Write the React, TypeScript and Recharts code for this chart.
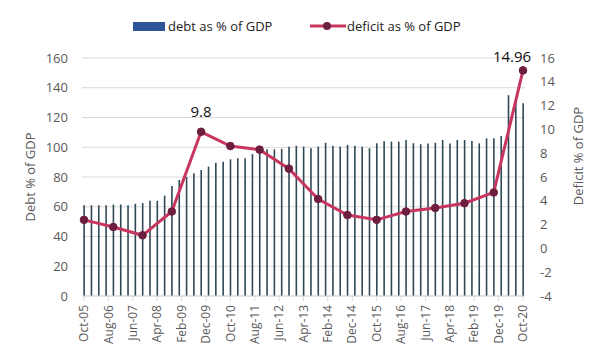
import React from 'react';
import { ComposedChart, Bar, Line, XAxis, YAxis, CartesianGrid, LabelList } from 'recharts';

// debt is quarterly (Oct-05 .. Oct-20), deficit is one reading per year (each October)
const MONTHS = ['Jan', 'Feb', 'Mar', 'Apr', 'May', 'Jun', 'Jul', 'Aug', 'Sep', 'Oct', 'Nov', 'Dec'];
const START_YEAR = 2005;
const START_MONTH = 9; // October

const debtPct = [
  61, 61, 61, 61, 61.5, 61.5, 61, 62, 62.5, 64, 64, 67.5, 74, 78, 80, 82.5, 84.7, 87, 89.6, 90.3,
  91.9, 92.6, 92.6, 95.4, 97, 98.6, 98.6, 99, 100.4, 101, 100.4, 99.3, 100.4, 103, 101, 100.4, 101.5, 101, 100.4, 99.3,
  102.7, 104, 103.8, 103.8, 104.8, 102.7, 102, 102.6, 103, 104.9, 102.6, 104.9, 104.9, 104.2, 102.6, 106, 106, 107.6, 135, 130,
  129.5,
];
const deficitPct = [2.4, 1.8, 1.1, 3.1, 9.8, 8.6, 8.3, 6.7, 4.15, 2.8, 2.4, 3.1, 3.4, 3.8, 4.7, 14.96];
const labelledDeficits = [9.8, 14.96];

const xTicks = Array.from({ length: 19 }, (_, i) => i * 10);
const debtTicks = [0, 20, 40, 60, 80, 100, 120, 140, 160];
const deficitTicks = [-4, -2, 0, 2, 4, 6, 8, 10, 12, 14, 16];

const rows = debtPct.map((debt, i) => ({
  m: i * 3,
  debt,
  deficit: i % 4 === 0 ? deficitPct[i / 4] : null,
}));

const monthLabel = (m: number) => {
  const total = START_MONTH + m;
  const yr = START_YEAR + Math.floor(total / 12);
  return `${MONTHS[total % 12]}-${String(yr % 100).padStart(2, '0')}`;
};

const INK = '#595959';
const FONT = "'Open Sans', sans-serif";
const LINE = '#C8365F';
const DOT = '#6E1E3F';

const XTick = ({ x, y, payload }: any) => (
  <text
    x={x}
    y={y + 2}
    transform={`rotate(-90 ${x} ${y + 2})`}
    textAnchor="end"
    dy="0.35em"
    fontSize={12}
    fill={INK}
    fontFamily={FONT}
  >
    {monthLabel(payload.value)}
  </text>
);

const PeakLabel = (props: any) => {
  const { x, y, value, index } = props;
  if (value == null || !labelledDeficits.includes(value)) return null;
  const last = index === rows.length - 1;
  return (
    <text
      x={last ? x - 11 : x}
      y={last ? y - 12 : y - 19}
      textAnchor="middle"
      dominantBaseline="middle"
      fontSize={15}
      fill="#111"
      fontFamily={FONT}
    >
      {value}
    </text>
  );
};

function LegendRow() {
  const txt: React.CSSProperties = { position: 'absolute', top: 17, fontSize: 13, color: '#222', fontFamily: FONT, whiteSpace: 'nowrap' };
  return (
    <>
      <div style={{ position: 'absolute', left: 133, top: 22, width: 32, height: 9, background: '#2E5597' }} />
      <div style={{ ...txt, left: 168 }}>debt as % of GDP</div>
      <svg style={{ position: 'absolute', left: 308, top: 20 }} width={40} height={12}>
        <line x1={2} y1={6} x2={38} y2={6} stroke={LINE} strokeWidth={3} />
        <circle cx={19} cy={6} r={4} fill={DOT} />
      </svg>
      <div style={{ ...txt, left: 347 }}>deficit as % of GDP</div>
    </>
  );
}

export default function App() {
  return (
    <div style={{ position: 'absolute', left: 0, top: 0, width: 601, height: 360, background: '#fff' }}>
      <LegendRow />
      <ComposedChart
        width={601}
        height={360}
        data={rows}
        margin={{ top: 58, right: 16, bottom: 0, left: 22 }}
        style={{ fontFamily: FONT }}
      >
        <CartesianGrid yAxisId="left" vertical={false} stroke="#D9D9D9" />
        <XAxis
          dataKey="m"
          type="number"
          domain={[0, 180]}
          ticks={xTicks}
          interval={0}
          padding={{ left: 2, right: 2 }}
          height={64}
          stroke="#D9D9D9"
          tickSize={5}
          tick={<XTick />}
        />
        <YAxis
          yAxisId="left"
          domain={[0, 160]}
          ticks={debtTicks}
          width={60}
          axisLine={false}
          tickLine={false}
          tickMargin={8}
          tick={{ fontSize: 13, fill: INK }}
          label={{
            content: () => (
              <text x={32} y={177} transform="rotate(-90 32 177)" textAnchor="middle" dominantBaseline="middle" fontSize={13} fill={INK} fontFamily={FONT}>
                Debt % of GDP
              </text>
            ),
          }}
        />
        <YAxis
          yAxisId="right"
          orientation="right"
          domain={[-4, 16]}
          ticks={deficitTicks}
          width={60}
          axisLine={false}
          tickLine={false}
          tickMargin={9}
          tick={{ fontSize: 13, fill: INK }}
          label={{
            content: () => (
              <text x={580} y={156} transform="rotate(-90 580 156)" textAnchor="middle" dominantBaseline="middle" fontSize={13} fill={INK} fontFamily={FONT}>
                Deficit % of GDP
              </text>
            ),
          }}
        />
        <Bar yAxisId="left" dataKey="debt" barSize={1.6} fill="#2F4856" isAnimationActive={false} />
        <Line
          yAxisId="right"
          dataKey="deficit"
          connectNulls
          stroke={LINE}
          strokeWidth={3}
          dot={{ r: 3.8, fill: DOT, stroke: DOT, strokeWidth: 1 }}
          activeDot={false}
          isAnimationActive={false}
        >
          <LabelList dataKey="deficit" content={<PeakLabel />} />
        </Line>
      </ComposedChart>
    </div>
  );
}
